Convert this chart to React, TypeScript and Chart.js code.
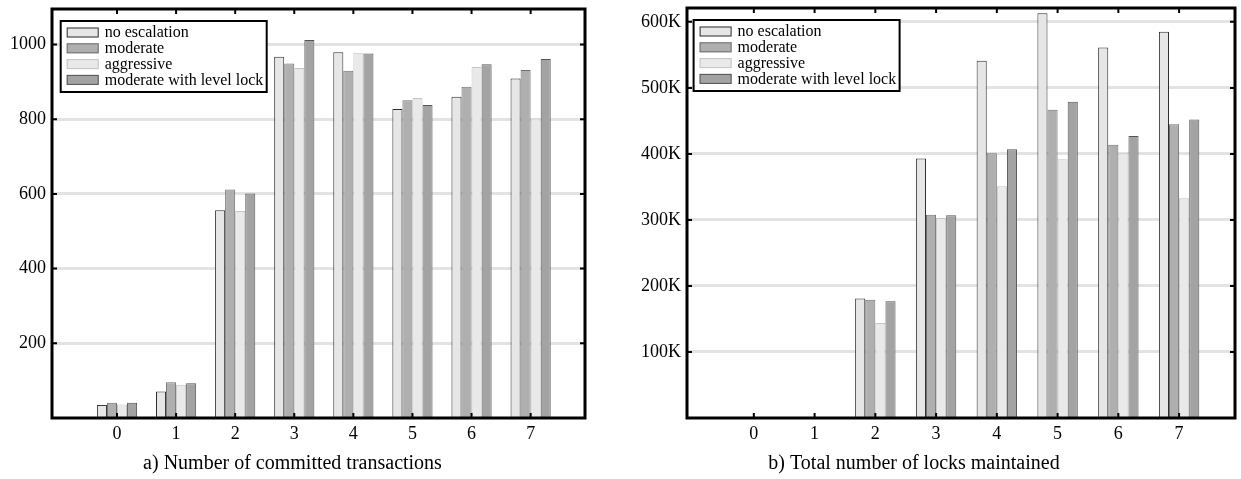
import React, { useEffect, useRef } from 'react';
import { Chart, registerables } from 'chart.js';

Chart.register(...registerables);

// ---------- data ----------
const categories = [0, 1, 2, 3, 4, 5, 6, 7];
const seriesNames = ['no escalation', 'moderate', 'aggressive', 'moderate with level lock'];

// a) Number of committed transactions
const txNoEscalation = [35, 71, 556, 967, 979, 827, 860, 909];
const txModerate = [41, 96, 612, 949, 930, 851, 887, 932];
const txAggressive = [36, 89, 554, 937, 978, 857, 940, 802];
const txLevelLock = [41, 93, 601, 1012, 976, 838, 947, 961];
const txTicks = [200, 400, 600, 800, 1000];

// b) Total number of locks maintained
const locksNoEscalation = [null, null, 181000, 393000, 541000, 613000, 561000, 585000];
const locksModerate = [null, null, 179000, 308000, 401000, 467000, 414000, 445000];
const locksAggressive = [null, null, 144000, 303000, 351000, 392000, 401000, 333000];
const locksLevelLock = [null, null, 177000, 307000, 407000, 479000, 427000, 452000];
const lockTicks = [100000, 200000, 300000, 400000, 500000, 600000];

const titleA = 'a) Number of committed transactions';
const titleB = 'b) Total number of locks maintained';

// ---------- styles ----------
const fillColors = ['#e6e6e6', '#afafaf', '#e9e9e9', '#a3a3a3'];
const borderColors = ['#2e2e2e', '#707070', '#c4c4c4', '#555555'];
const FONT = "'Liberation Serif', 'Times New Roman', serif";

type Opts = {
  values: (number | null)[][];
  yMax: number;
  yTicks: number[];
  yFmt: (v: number) => string;
  yWidth: number;
  padTop: number;
  padRight: number;
  title: string;
  legendDx: number;
  catPct: number;
};

function framePlugin(legendDx: number) {
  return {
    id: 'frameAndLegend',
    afterDraw(chart: any) {
      const ctx = chart.ctx as CanvasRenderingContext2D;
      const { left, right, top, bottom } = chart.chartArea;
      const xs = chart.scales.x;
      const ys = chart.scales.y;
      ctx.save();
      // inward tick marks
      ctx.strokeStyle = '#000';
      ctx.lineWidth = 2;
      ctx.beginPath();
      ys.ticks.forEach((t: any) => {
        const y = ys.getPixelForValue(t.value);
        ctx.moveTo(left, y);
        ctx.lineTo(left + 5, y);
        ctx.moveTo(right - 5, y);
        ctx.lineTo(right, y);
      });
      xs.ticks.forEach((t: any) => {
        const x = xs.getPixelForValue(t.value);
        ctx.moveTo(x, top);
        ctx.lineTo(x, top + 5);
        ctx.moveTo(x, bottom - 5);
        ctx.lineTo(x, bottom);
      });
      ctx.stroke();
      // frame
      ctx.lineWidth = 3;
      ctx.strokeRect(left, top, right - left, bottom - top);

      // legend
      const bx = left + legendDx;
      const by = top + 12;
      const bw = 206;
      const bh = 71;
      ctx.fillStyle = '#fff';
      ctx.fillRect(bx, by, bw, bh);
      ctx.lineWidth = 2;
      ctx.strokeStyle = '#000';
      ctx.strokeRect(bx, by, bw, bh);
      ctx.font = `16px ${FONT}`;
      ctx.textBaseline = 'middle';
      ctx.textAlign = 'left';
      chart.data.datasets.forEach((ds: any, i: number) => {
        const cy = by + 11.5 + i * 15.8;
        ctx.fillStyle = ds.backgroundColor;
        ctx.fillRect(bx + 6, cy - 5, 32, 10);
        ctx.lineWidth = 1;
        ctx.strokeStyle = ds.borderColor;
        ctx.strokeRect(bx + 6.5, cy - 4.5, 31, 9);
        ctx.fillStyle = '#000';
        ctx.fillText(ds.label, bx + 44, cy + 0.5);
      });
      ctx.restore();
    },
  };
}

function buildConfig(o: Opts): any {
  return {
    type: 'bar',
    data: {
      datasets: o.values.map((vals, i) => ({
        label: seriesNames[i],
        data: categories.map((c, k) => ({ x: c, y: vals[k] })),
        backgroundColor: fillColors[i],
        borderColor: borderColors[i],
        borderWidth: 1,
        categoryPercentage: o.catPct,
        barPercentage: 1,
      })),
    },
    options: {
      animation: false,
      responsive: false,
      maintainAspectRatio: false,
      layout: { padding: { top: o.padTop, right: o.padRight, left: 0, bottom: 0 } },
      plugins: {
        legend: { display: false },
        tooltip: { enabled: false },
        title: {
          display: true,
          position: 'bottom',
          text: o.title,
          color: '#000',
          font: { family: FONT, size: 20, weight: 'normal' },
          padding: { top: 0, bottom: 3 },
        },
      },
      scales: {
        x: {
          type: 'linear',
          offset: false,
          min: -1.1,
          max: 7.92,
          grid: { display: false, drawTicks: false, offset: false },
          border: { display: false },
          afterBuildTicks: (s: any) => {
            s.ticks = categories.map((v) => ({ value: v }));
          },
          afterFit: (s: any) => {
            s.height = 34;
            s.paddingLeft = 0;
            s.paddingRight = 0;
          },
          ticks: {
            autoSkip: false,
            maxRotation: 0,
            padding: 5,
            color: '#000',
            font: { family: FONT, size: 18 },
            callback: (v: any) => String(v),
          },
        },
        y: {
          type: 'linear',
          min: 0,
          max: o.yMax,
          grid: { color: '#e3e3e3', lineWidth: 3, drawTicks: false },
          border: { display: false },
          afterBuildTicks: (s: any) => {
            s.ticks = o.yTicks.map((v) => ({ value: v }));
          },
          afterFit: (s: any) => {
            s.width = o.yWidth;
            s.paddingTop = 0;
            s.paddingBottom = 0;
          },
          ticks: {
            padding: 6,
            color: '#000',
            font: { family: FONT, size: 18 },
            callback: (v: any) => o.yFmt(Number(v)),
          },
        },
      },
    },
    plugins: [framePlugin(o.legendDx)],
  };
}

function ChartCanvas(props: { opts: Opts; left: number; width: number }) {
  const ref = useRef<HTMLCanvasElement | null>(null);
  useEffect(() => {
    if (!ref.current) return;
    const chart = new Chart(ref.current, buildConfig(props.opts));
    return () => chart.destroy();
  }, []);
  return (
    <canvas
      ref={ref}
      width={props.width}
      height={479}
      style={{ position: 'absolute', left: props.left, top: 0, width: props.width, height: 479 }}
    />
  );
}

export default function App() {
  const optsA: Opts = {
    values: [txNoEscalation, txModerate, txAggressive, txLevelLock],
    yMax: 1095,
    yTicks: txTicks,
    yFmt: (v) => String(v),
    yWidth: 52,
    padTop: 9,
    padRight: 15,
    title: titleA,
    legendDx: 8.7,
    catPct: 0.68,
  };
  const optsB: Opts = {
    values: [locksNoEscalation, locksModerate, locksAggressive, locksLevelLock],
    yMax: 621000,
    yTicks: lockTicks,
    yFmt: (v) => `${Math.round(v / 1000)}K`,
    yWidth: 94,
    padTop: 8,
    padRight: 6,
    title: titleB,
    legendDx: 6.6,
    catPct: 0.665,
  };
  return (
    <div style={{ position: 'fixed', left: 0, top: 0, width: 1241, height: 479, background: '#fff' }}>
      <ChartCanvas opts={optsA} left={0} width={600} />
      <ChartCanvas opts={optsB} left={593} width={648} />
    </div>
  );
}
